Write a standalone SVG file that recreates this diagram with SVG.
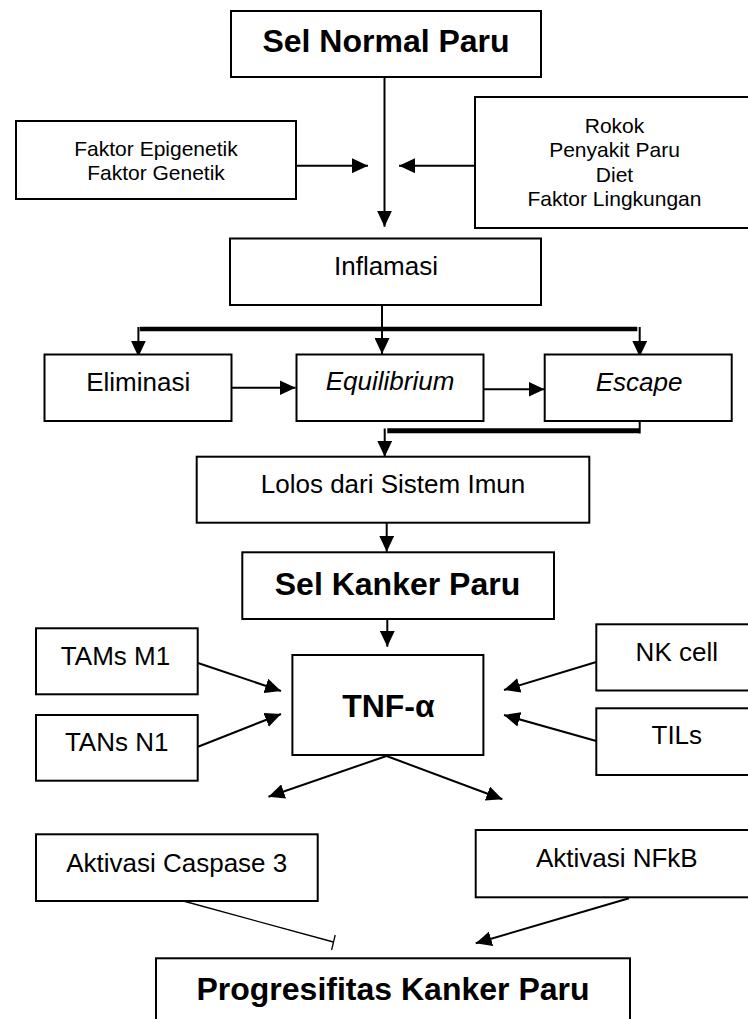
<svg xmlns="http://www.w3.org/2000/svg" width="748" height="1019" viewBox="0 0 748 1019">
<style>
.box{fill:#fff;stroke:#000;stroke-width:2}
.t{font-family:"Liberation Sans",Arial,sans-serif;fill:#000;text-anchor:middle}
.big{font-size:32px;font-weight:bold}
.mid{font-size:26px}
.sm{font-size:21px}
.it{font-style:italic}
.conn{stroke:#000;stroke-width:2;fill:none}
.bar{stroke:#000;stroke-width:5;fill:none}
.thin{stroke:#000;stroke-width:1.3;fill:none}
</style>
<defs>
<marker id="ah" markerUnits="userSpaceOnUse" markerWidth="16" markerHeight="15" viewBox="0 0 16 15" refX="16" refY="7.5" orient="auto">
<path d="M0,0 L16,7.5 L0,15 z" fill="#000"/>
</marker>
</defs>
<rect width="748" height="1019" fill="#fff"/>
<g id="connectors">
<line class="conn" x1="384.5" y1="77" x2="384.5" y2="226.7" marker-end="url(#ah)"/>
<line class="conn" x1="296" y1="165.7" x2="368" y2="165.7" marker-end="url(#ah)"/>
<line class="conn" x1="474.7" y1="165.7" x2="399" y2="165.7" marker-end="url(#ah)"/>
<line class="conn" x1="382" y1="305" x2="382" y2="354" marker-end="url(#ah)"/>
<line class="bar" x1="139.8" y1="329" x2="637.3" y2="329" style="stroke-width:4.5"/>
<line class="conn" x1="138.4" y1="327" x2="138.4" y2="356.7" marker-end="url(#ah)"/>
<line class="conn" x1="639.7" y1="327" x2="639.7" y2="356.7" marker-end="url(#ah)"/>
<line class="conn" x1="231.7" y1="387.7" x2="295.5" y2="387.7" marker-end="url(#ah)"/>
<line class="conn" x1="483.3" y1="389.3" x2="544.5" y2="389.3" marker-end="url(#ah)"/>
<line class="conn" x1="639.7" y1="421" x2="639.7" y2="433.5"/>
<line class="bar" x1="387.3" y1="430.8" x2="639.5" y2="430.8"/>
<line class="conn" x1="384.7" y1="428.5" x2="384.7" y2="456.7" marker-end="url(#ah)"/>
<line class="conn" x1="386.7" y1="522.7" x2="386.7" y2="551.7" marker-end="url(#ah)"/>
<line class="conn" x1="387.3" y1="619" x2="387.3" y2="646.7" marker-end="url(#ah)"/>
<line class="conn" x1="198" y1="663" x2="281" y2="691" marker-end="url(#ah)"/>
<line class="conn" x1="198" y1="746.7" x2="281" y2="714" marker-end="url(#ah)"/>
<line class="conn" x1="596.3" y1="662" x2="504" y2="690" marker-end="url(#ah)"/>
<line class="conn" x1="596.3" y1="741" x2="504" y2="715" marker-end="url(#ah)"/>
<line class="conn" x1="386.5" y1="756" x2="268.5" y2="796.7" marker-end="url(#ah)"/>
<line class="conn" x1="386.5" y1="756" x2="502.4" y2="799.2" marker-end="url(#ah)"/>
<line class="thin" x1="183.3" y1="901" x2="333.4" y2="942"/>
<line class="thin" x1="335.2" y1="935" x2="331.6" y2="950"/>
<line class="conn" x1="629" y1="898.3" x2="475.7" y2="943.3" marker-end="url(#ah)"/>
</g>
<g id="sel-normal-paru"><rect class="box" x="231" y="11" width="310" height="66"/><text class="t big" x="386" y="52.3">Sel Normal Paru</text></g>
<g id="faktor-genetik"><rect class="box" x="16" y="121" width="280" height="78"/><text class="t sm" x="156" y="156">Faktor Epigenetik</text><text class="t sm" x="156" y="180">Faktor Genetik</text></g>
<g id="faktor-lingkungan"><rect class="box" x="475" y="97" width="281" height="131"/><text class="t sm" x="614.5" y="132.7">Rokok</text><text class="t sm" x="614.5" y="156.7">Penyakit Paru</text><text class="t sm" x="614.5" y="181.5">Diet</text><text class="t sm" x="614.5" y="205.7">Faktor Lingkungan</text></g>
<g id="inflamasi"><rect class="box" x="230" y="238.5" width="311" height="66.5"/><text class="t mid" x="386" y="275">Inflamasi</text></g>
<g id="eliminasi"><rect class="box" x="44.5" y="354.5" width="187" height="66.5"/><text class="t mid" x="138.2" y="391">Eliminasi</text></g>
<g id="equilibrium"><rect class="box" x="296.5" y="354.5" width="187" height="66.5"/><text class="t mid it" x="390" y="390">Equilibrium</text></g>
<g id="escape"><rect class="box" x="544.7" y="354.5" width="187" height="66.5"/><text class="t mid it" x="639" y="390.7">Escape</text></g>
<g id="lolos"><rect class="box" x="196.7" y="456.7" width="392.6" height="66"/><text class="t mid" x="393" y="493.3">Lolos dari Sistem Imun</text></g>
<g id="sel-kanker-paru"><rect class="box" x="242.3" y="552.3" width="311.7" height="66.7"/><text class="t big" x="397.5" y="595">Sel Kanker Paru</text></g>
<g id="tams-m1"><rect class="box" x="36" y="628.3" width="161.7" height="66"/><text class="t mid" x="115.5" y="665">TAMs M1</text></g>
<g id="tans-n1"><rect class="box" x="36" y="715" width="161.7" height="65.7"/><text class="t mid" x="116.7" y="751">TANs N1</text></g>
<g id="tnf"><rect class="box" x="292.4" y="655" width="191" height="100"/><text class="t big" x="388.4" y="716.7">TNF-α</text></g>
<g id="nk-cell"><rect class="box" x="596.3" y="624.3" width="160" height="66.2"/><text class="t mid" x="676.8" y="661">NK cell</text></g>
<g id="tils"><rect class="box" x="596.3" y="708.3" width="160" height="66.7"/><text class="t mid" x="676.8" y="744">TILs</text></g>
<g id="caspase"><rect class="box" x="36" y="834.3" width="281.7" height="66.7"/><text class="t mid" x="176.7" y="871.7">Aktivasi Caspase 3</text></g>
<g id="nfkb"><rect class="box" x="475.7" y="830" width="281" height="67.3"/><text class="t mid" x="616.8" y="866.7">Aktivasi NFkB</text></g>
<g id="progresifitas"><rect class="box" x="156" y="958.3" width="474" height="72"/><text class="t big" x="393" y="1000">Progresifitas Kanker Paru</text></g>
</svg>
